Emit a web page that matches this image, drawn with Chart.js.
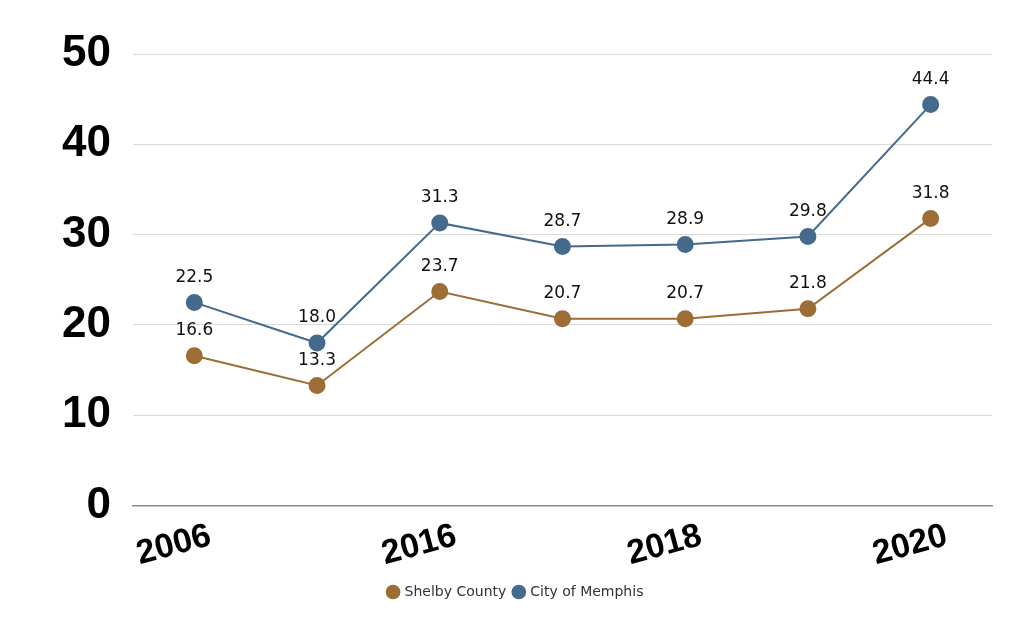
<!DOCTYPE html>
<html>
<head>
<meta charset="utf-8">
<script src="https://cdn.jsdelivr.net/npm/chart.js@4"></script>
<style>
  html, body { margin:0; padding:0; background:#fff; }
  #wrap { width:1024px; height:634px; }
</style>
</head>
<body>
<div id="wrap"><canvas id="chart" width="1024" height="634"></canvas></div>
<script>
// Years on the x axis (only every other one is labelled in the original)
const YEARS = ["2006", "2010", "2016", "2017", "2018", "2019", "2020"];
const SHELBY = [16.6, 13.3, 23.7, 20.7, 20.7, 21.8, 31.8];
const MEMPHIS = [22.5, 18.0, 31.3, 28.7, 28.9, 29.8, 44.4];
const Y_TICKS = [0, 10, 20, 30, 40, 50];

const BROWN = "#9c6e35";
const BLUE = "#456a8b";

// Value labels above each point
const valueLabels = {
  id: "valueLabels",
  afterDatasetsDraw(chart){
    const ctx = chart.ctx;
    ctx.save();
    ctx.font = "17px 'DejaVu Sans', sans-serif";
    ctx.fillStyle = "#111";
    ctx.textAlign = "center";
    ctx.textBaseline = "middle";
    chart.data.datasets.forEach((ds, i)=>{
      chart.getDatasetMeta(i).data.forEach((pt, j)=>{
        ctx.fillText(ds.data[j].toFixed(1), pt.x, pt.y - 25);
      });
    });
    ctx.restore();
  }
};

new Chart(document.getElementById("chart").getContext("2d"), {
  type: "line",
  data: {
    labels: YEARS,
    datasets: [
      { label: "Shelby County", data: SHELBY, borderColor: BROWN, backgroundColor: BROWN,
        pointBackgroundColor: BROWN, pointBorderColor: BROWN, borderWidth: 2, pointRadius: 7.5, tension: 0 },
      { label: "City of Memphis", data: MEMPHIS, borderColor: BLUE, backgroundColor: BLUE,
        pointBackgroundColor: BLUE, pointBorderColor: BLUE, borderWidth: 2, pointRadius: 7.5, tension: 0 }
    ]
  },
  options: {
    responsive: false,
    animation: false,
    devicePixelRatio: 1,
    layout: { padding: { top: 54, right: 32, left: 40, bottom: 25 } },
    plugins: {
      tooltip: { enabled: false },
      legend: {
        position: "bottom",
        labels: {
          usePointStyle: true, pointStyle: "circle", boxWidth: 9, boxHeight: 9,
          padding: 8, color: "#333",
          font: { family: "'DejaVu Sans', sans-serif", size: 14 }
        }
      }
    },
    scales: {
      x: {
        offset: true,
        grid: { display: false },
        border: { display: true, color: "#8c8c8c", width: 1.5 },
        ticks: {
          autoSkip: false, minRotation: 15, maxRotation: 15, labelOffset: 16, padding: 15,
          color: "#000",
          font: { family: "'Liberation Sans', Arial, sans-serif", size: 34, weight: "bold", lineHeight: 0.42 },
          callback: (v, i)=> i % 2 === 0 ? YEARS[i] : ""
        }
      },
      y: {
        min: Y_TICKS[0], max: Y_TICKS[Y_TICKS.length - 1],
        afterBuildTicks: axis => { axis.ticks = Y_TICKS.map(v => ({ value: v })); },
        grid: { color: "#d9d9d9", drawTicks: false },
        border: { display: false },
        ticks: {
          padding: 22, color: "#000",
          font: { family: "'Liberation Sans', Arial, sans-serif", size: 44, weight: "bold" }
        }
      }
    }
  },
  plugins: [valueLabels]
});
</script>
</body>
</html>
